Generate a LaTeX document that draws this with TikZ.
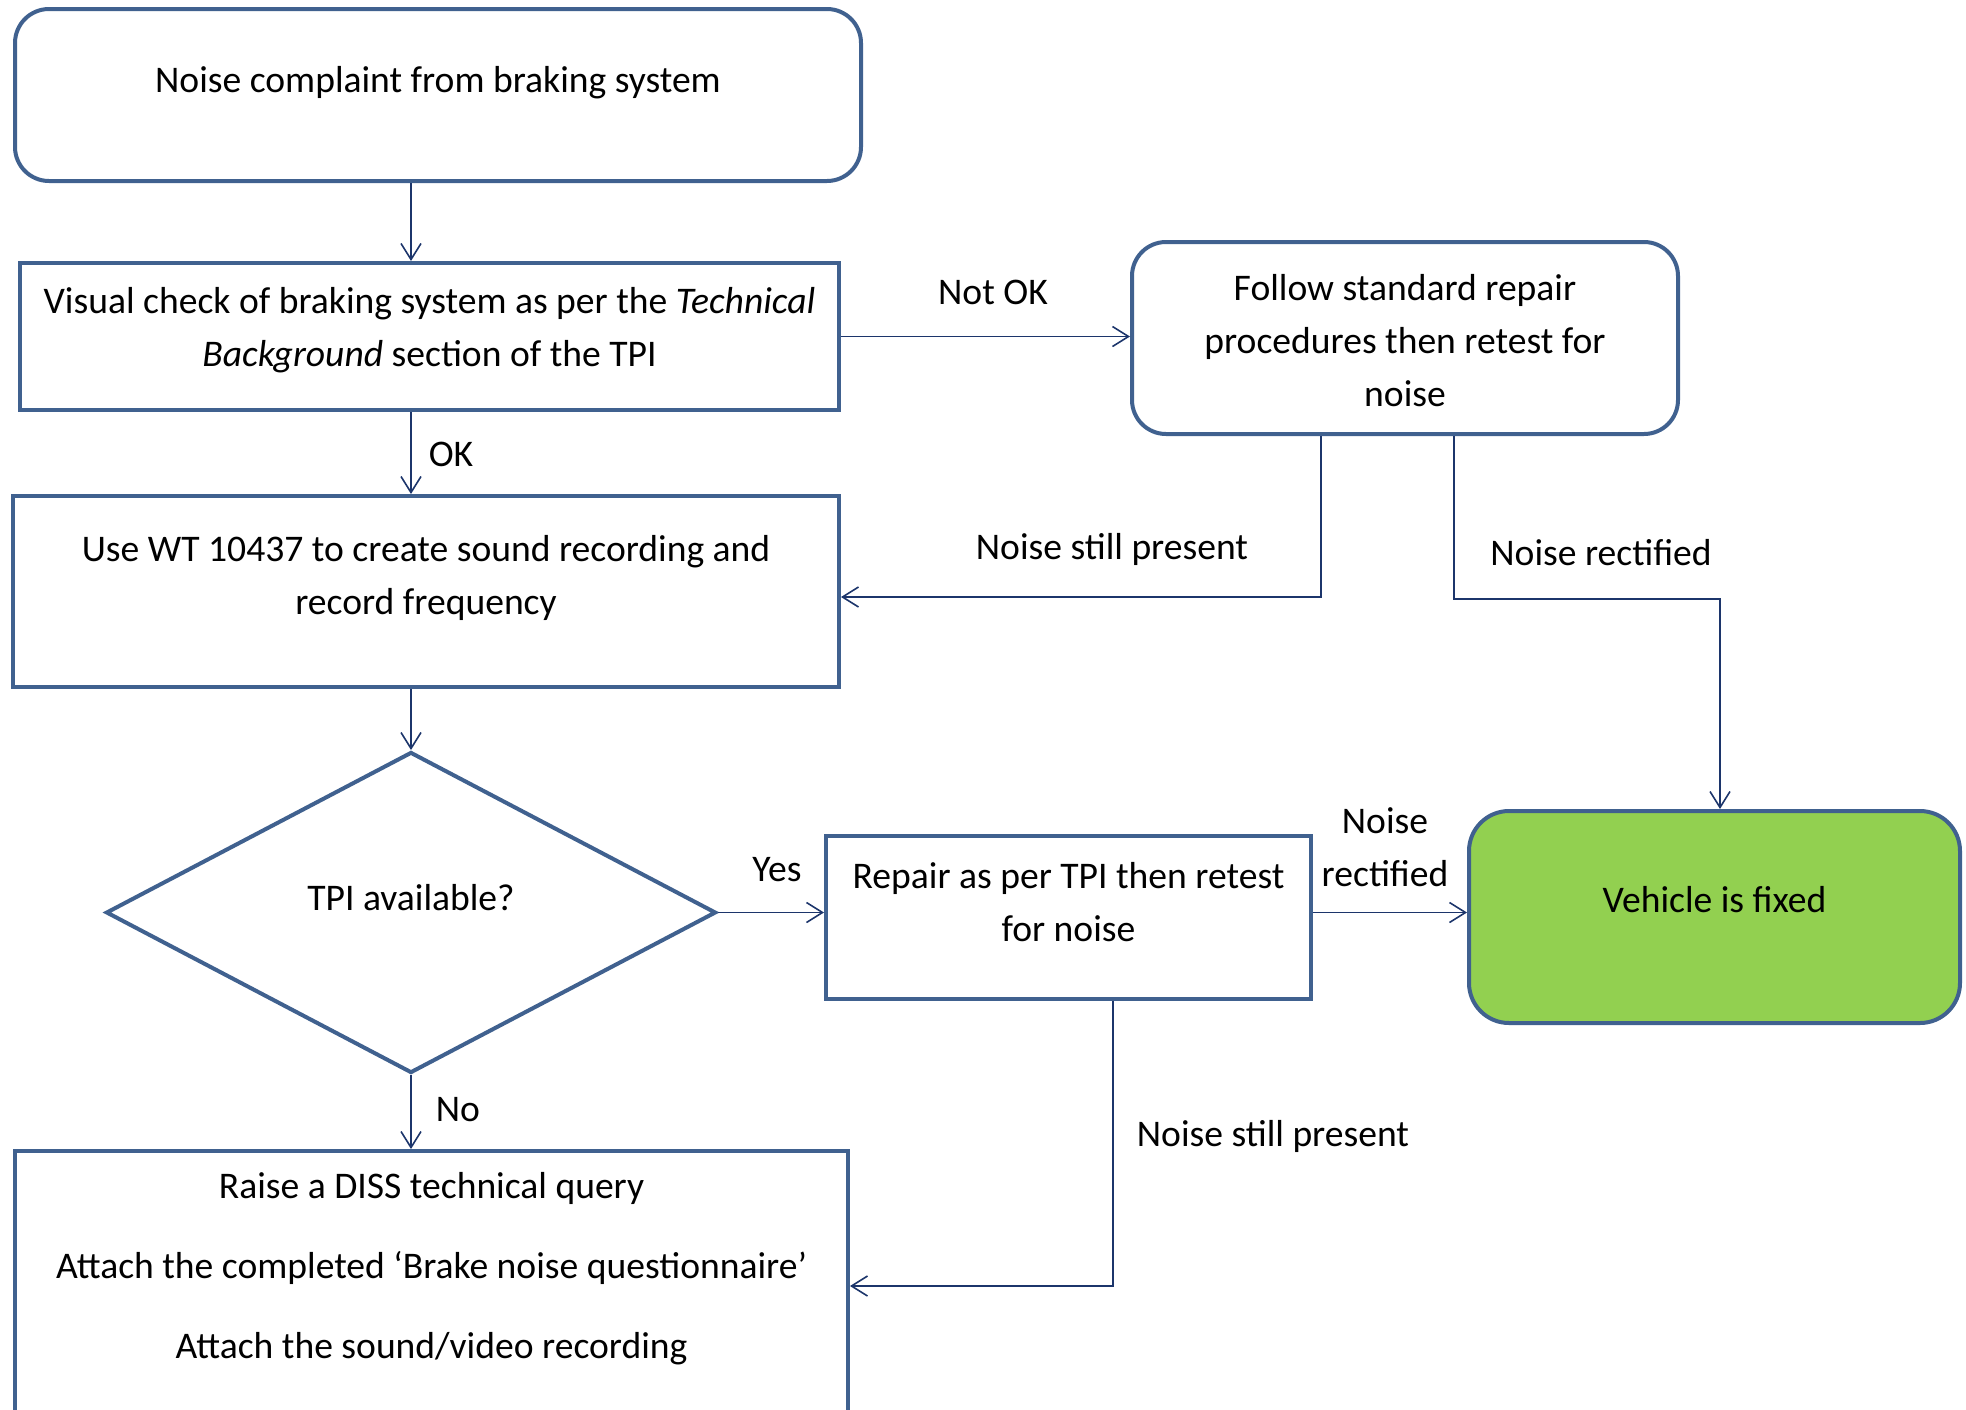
\documentclass[tikz,border=0pt]{standalone}
\usepackage{fontspec}
\setmainfont{Carlito}
\usepackage{tikz}
\usetikzlibrary{arrows.meta, positioning, shapes.geometric}
\definecolor{BoxEdge}{HTML}{40618F}
\definecolor{LinkBlue}{HTML}{1C356B}
\definecolor{FixedGreen}{HTML}{92D050}

\begin{document}
\begin{tikzpicture}[
    x=0.5pt, y=0.5pt,
    box/.style={draw=BoxEdge, line width=2pt, fill=white, inner sep=0pt},
    roundbox/.style={box, rounded corners=17pt},
    decision/.style={box, diamond, minimum width=305pt, minimum height=160.5pt},
    conn/.style={draw=LinkBlue, line width=0.8pt, -{Straight Barb[length=8pt, width=10pt]}},
    txt/.style={font=\fontsize{18.8}{26.5}\selectfont, align=center, inner sep=0pt},
    lbl/.style={txt}
]
\clip (0,0) rectangle (1966,-1409);

% Boxes
\node[roundbox, minimum width=423pt, minimum height=86pt] (complaint) at (438,-95) {};
\node[box, minimum width=409.5pt, minimum height=73.5pt] (visual) at (429.5,-336.5) {};
\node[roundbox, minimum width=273pt, minimum height=96pt] (standard) at (1405,-338) {};
\node[box, minimum width=413pt, minimum height=95.5pt] (recording) at (426,-591.5) {};
\node[decision] (tpi) at (411,-912.5) {};
\node[box, minimum width=242.5pt, minimum height=81.5pt] (repair) at (1068.5,-917.5) {};
\node[roundbox, fill=FixedGreen, rounded corners=20pt, minimum width=245.5pt, minimum height=106pt] (fixed) at (1714.5,-917) {};
\node[box, minimum width=416.5pt, minimum height=135pt] (query) at (431.5,-1286) {};

% Box texts
\node[txt] (complaint-t) at ([yshift=6pt]complaint.center) {Noise complaint from braking system};
\node[txt] (visual-t) at ([yshift=3pt]visual.center) {Visual check of braking system as per the \textit{Technical}\\ \textit{Background} section of the TPI};
\node[txt] (standard-t) at ([yshift=-1.5pt]standard.center) {Follow standard repair\\ procedures then retest for\\ noise};
\node[txt] (recording-t) at ([yshift=6.8pt]recording.center) {Use WT 10437 to create sound recording and\\ record frequency};
\node[txt] (tpi-t) at ([yshift=7.5pt]tpi.center) {TPI available?};
\node[txt] (repair-t) at ([yshift=7.5pt]repair.center) {Repair as per TPI then retest\\ for noise};
\node[txt] (fixed-t) at ([yshift=8.5pt]fixed.center) {Vehicle is fixed};
\node[txt, font=\fontsize{18.8}{40}\selectfont] (query-t) at ([yshift=-60pt]query.north) {Raise a DISS technical query\\ Attach the completed ‘Brake noise questionnaire’\\ Attach the sound/video recording};

% Connectors
\draw[conn] (complaint.south -| tpi.north) -- (visual.north -| tpi.north);
\draw[conn] (visual.east) -- (visual.east -| standard.west);
\draw[conn] (visual.south -| tpi.north) -- (recording.north -| tpi.north);
\draw[conn] ([xshift=-42pt]standard.south) |- ([yshift=-2.75pt]recording.east);
\draw[conn] ([xshift=24.5pt]standard.south) -- ++(0,-81.5pt) -| ([xshift=2.75pt]fixed.north);
\draw[conn] (recording.south -| tpi.north) -- (tpi.north);
\draw[conn] (tpi.east) -- (tpi.east -| repair.west);
\draw[conn] (repair.east |- tpi.east) -- (fixed.west |- tpi.east);
\draw[conn] (tpi.south) -- (query.north -| tpi.south);
\draw[conn] ([xshift=22.25pt]repair.south) |- (query.east);

% Connector labels
\node[lbl] (notok) at (993,-292) {Not OK};
\node[lbl] (ok) at (451,-454) {OK};
\node[lbl] (still1) at (1112,-549) {Noise still present};
\node[lbl] (rect1) at (1601,-553) {Noise rectified};
\node[lbl] (yes) at (777,-870) {Yes};
\node[lbl] (rect2) at (1385,-847.5) {Noise\\ rectified};
\node[lbl] (no) at (458,-1110) {No};
\node[lbl] (still2) at (1273,-1136) {Noise still present};
\end{tikzpicture}
\end{document}
